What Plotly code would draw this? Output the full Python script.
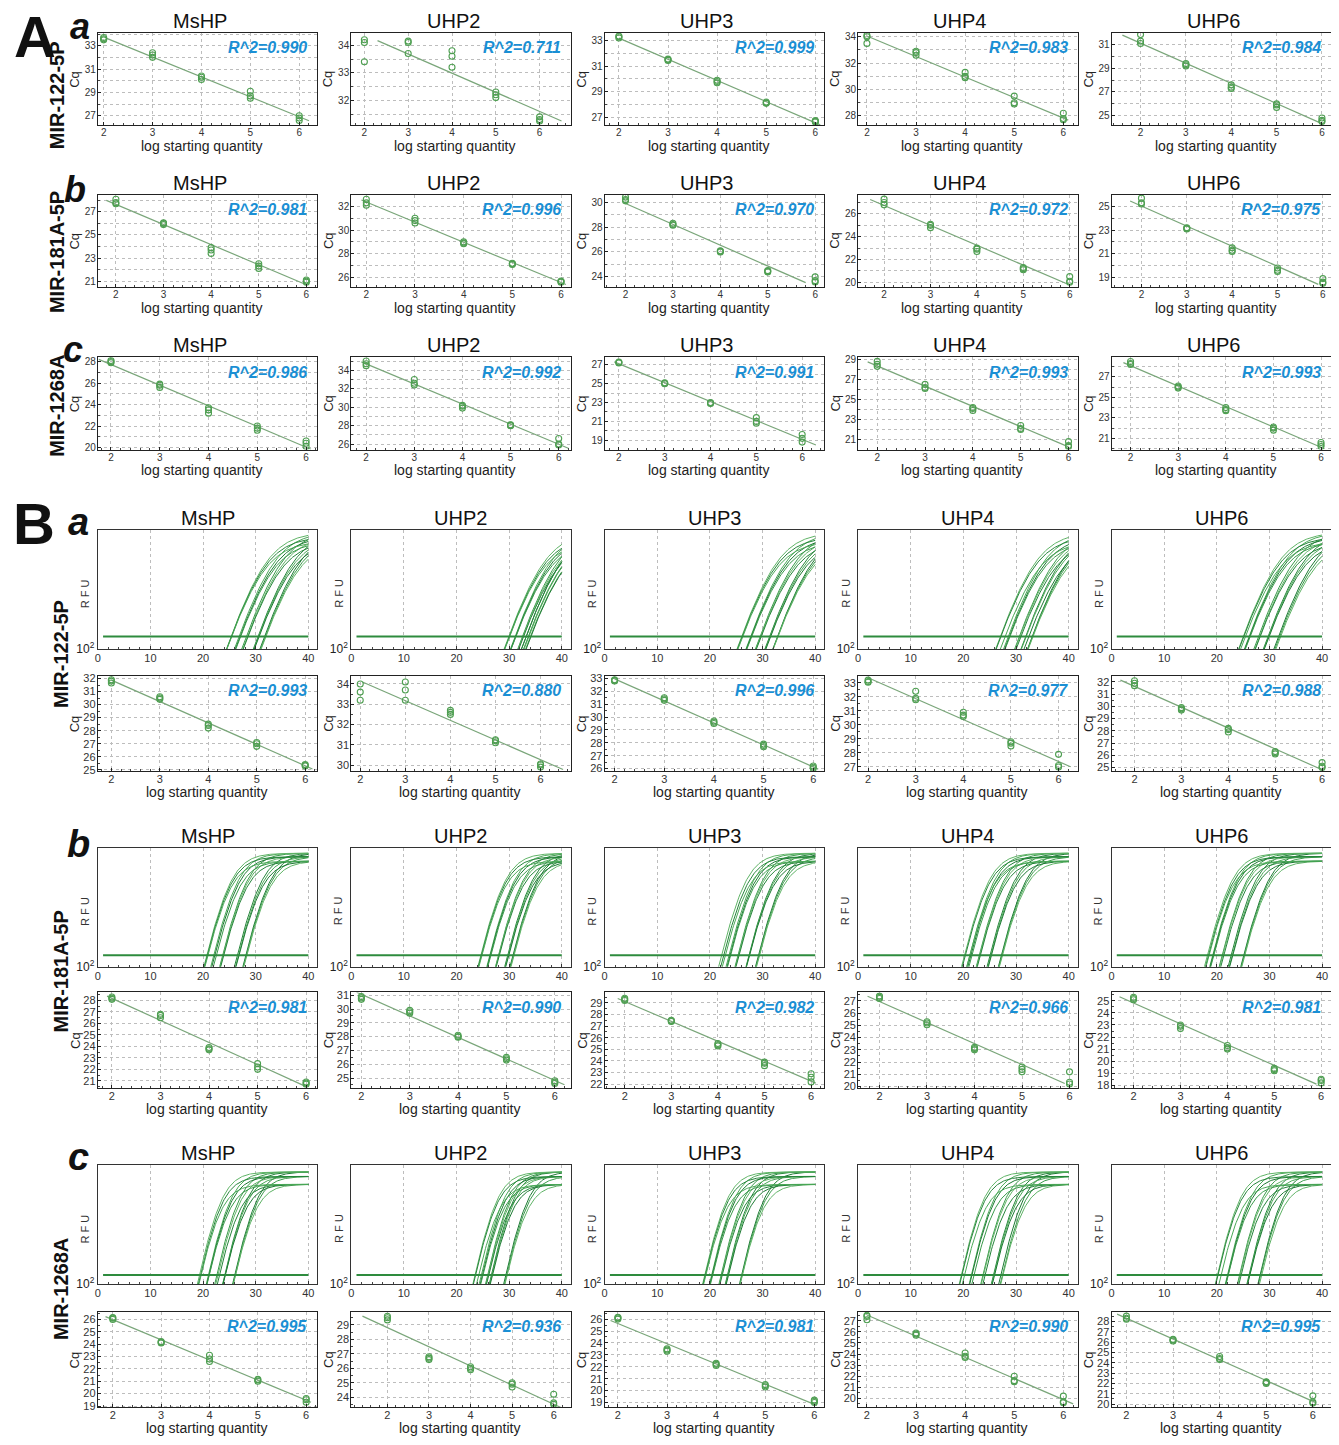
import numpy as np
import plotly.graph_objects as go

W, H = 1339, 1445          # reference picture size
OFF = 8                    # default page margin of the browser body
FW, FH = W - OFF, H - OFF

# ---------------- data ----------------
probes = ["MsHP", "UHP2", "UHP3", "UHP4", "UHP6"]
mirnas = ["MIR-122-5P", "MIR-181A-5P", "MIR-1268A"]
row_letters = ["a", "b", "c"]
log_qty = [2, 3, 4, 5, 6]
cycle_ticks = [0, 10, 20, 30, 40]

# Panel A : Cq replicates  [probe][dilution][replicate]
cqA_122 = [
    [[33.5, 33.6, 33.7], [32.0, 32.2, 32.4], [30.1, 30.3, 30.4], [28.5, 28.7, 29.1], [26.6, 26.8, 27.0]],
    [[33.4, 34.1, 34.2], [33.7, 34.1, 34.15], [33.2, 33.6, 33.8], [32.1, 32.2, 32.3], [31.25, 31.3, 31.4]],
    [[33.2, 33.3, 33.35], [31.45, 31.5, 31.55], [29.7, 29.8, 29.9], [28.1, 28.15, 28.2], [26.65, 26.7, 26.75]],
    [[33.5, 34.0, 34.1], [32.6, 32.8, 32.9], [30.9, 31.0, 31.3], [28.9, 29.0, 29.5], [27.7, 27.8, 28.2]],
    [[31.1, 31.3, 31.85], [29.2, 29.3, 29.4], [27.3, 27.4, 27.6], [25.7, 25.9, 26.0], [24.5, 24.6, 24.8]],
]
cqA_181 = [
    [[27.7, 27.8, 28.1], [25.9, 26.0, 26.05], [23.4, 23.7, 23.9], [22.1, 22.3, 22.5], [20.9, 21.0, 21.1]],
    [[32.1, 32.3, 32.6], [30.6, 30.8, 31.0], [28.85, 28.9, 29.0], [27.1, 27.15, 27.2], [25.6, 25.65, 25.7]],
    [[30.1, 30.2, 30.4], [28.15, 28.2, 28.3], [26.0, 26.05, 26.1], [24.4, 24.45, 24.5], [23.6, 23.7, 24.0]],
    [[26.8, 27.0, 27.3], [24.8, 25.0, 25.1], [22.7, 22.9, 23.0], [21.1, 21.2, 21.3], [20.0, 20.1, 20.5]],
    [[25.2, 25.3, 25.7], [23.1, 23.15, 23.2], [21.2, 21.3, 21.5], [19.5, 19.6, 19.8], [18.5, 18.6, 18.9]],
]
cqA_1268 = [
    [[27.9, 28.0, 28.1], [25.6, 25.8, 25.9], [23.2, 23.5, 23.7], [21.6, 21.8, 22.0], [20.1, 20.4, 20.6]],
    [[34.5, 34.7, 35.0], [32.4, 32.6, 33.0], [29.9, 30.1, 30.2], [28.0, 28.05, 28.1], [25.9, 26.0, 26.6]],
    [[27.2, 27.25, 27.3], [25.0, 25.05, 25.1], [22.9, 22.95, 23.0], [20.8, 21.0, 21.4], [18.8, 19.2, 19.6]],
    [[28.3, 28.5, 28.8], [26.1, 26.2, 26.5], [23.9, 24.1, 24.2], [22.0, 22.1, 22.4], [20.3, 20.4, 20.8]],
    [[28.2, 28.3, 28.5], [25.9, 26.0, 26.1], [23.7, 23.8, 24.0], [21.8, 22.0, 22.1], [20.2, 20.4, 20.6]],
]
r2A_122 = ["0.990", "0.711", "0.999", "0.983", "0.984"]
r2A_181 = ["0.981", "0.996", "0.970", "0.972", "0.975"]
r2A_1268 = ["0.986", "0.992", "0.991", "0.993", "0.993"]

# Panel B : Cq replicates  [probe][dilution][replicate]
cqB_122 = [
    [[31.65, 31.8, 31.9], [30.4, 30.5, 30.6], [28.2, 28.4, 28.5], [26.8, 27.0, 27.1], [25.3, 25.35, 25.4]],
    [[33.2, 33.6, 34.0], [33.2, 33.7, 34.1], [32.5, 32.6, 32.7], [31.1, 31.2, 31.25], [29.9, 30.0, 30.05]],
    [[32.8, 32.85, 32.9], [31.3, 31.4, 31.5], [29.5, 29.6, 29.7], [27.7, 27.8, 27.9], [26.0, 26.1, 26.2]],
    [[33.05, 33.1, 33.2], [31.8, 31.9, 32.4], [30.6, 30.7, 30.9], [28.5, 28.7, 28.8], [27.0, 27.1, 27.9]],
    [[31.7, 31.9, 32.1], [29.7, 29.8, 29.9], [27.9, 28.1, 28.2], [26.1, 26.2, 26.3], [25.0, 25.1, 25.4]],
]
cqB_181 = [
    [[28.1, 28.2, 28.3], [26.5, 26.7, 26.8], [23.7, 23.8, 23.9], [22.0, 22.2, 22.5], [20.7, 20.8, 20.9]],
    [[30.7, 30.8, 30.9], [29.7, 29.8, 29.9], [27.95, 28.0, 28.1], [26.3, 26.4, 26.5], [24.6, 24.7, 24.8]],
    [[29.2, 29.3, 29.4], [27.4, 27.45, 27.5], [25.3, 25.4, 25.5], [23.6, 23.8, 23.9], [22.2, 22.6, 22.9]],
    [[27.2, 27.3, 27.4], [25.05, 25.2, 25.3], [23.0, 23.1, 23.2], [21.2, 21.4, 21.6], [20.2, 20.35, 21.2]],
    [[25.1, 25.2, 25.3], [22.7, 22.9, 23.0], [21.0, 21.1, 21.3], [19.2, 19.3, 19.4], [18.2, 18.4, 18.5]],
]
cqB_1268 = [
    [[26.0, 26.1, 26.15], [24.1, 24.15, 24.2], [22.6, 22.8, 23.1], [21.0, 21.1, 21.15], [19.3, 19.5, 19.6]],
    [[29.35, 29.5, 29.6], [26.6, 26.7, 26.8], [25.9, 26.0, 26.1], [24.7, 24.9, 25.0], [23.5, 23.6, 24.2]],
    [[26.0, 26.1, 26.15], [23.3, 23.4, 23.5], [22.1, 22.2, 22.3], [20.3, 20.4, 20.5], [19.0, 19.1, 19.2]],
    [[27.1, 27.4, 27.5], [25.7, 25.8, 25.9], [23.7, 23.8, 24.1], [21.5, 21.6, 22.0], [19.6, 19.7, 20.2]],
    [[28.2, 28.3, 28.5], [26.1, 26.2, 26.25], [24.3, 24.4, 24.6], [22.0, 22.1, 22.15], [20.1, 20.2, 20.8]],
]
r2B_122 = ["0.993", "0.880", "0.996", "0.977", "0.988"]
r2B_181 = ["0.981", "0.990", "0.982", "0.966", "0.981"]
r2B_1268 = ["0.995", "0.936", "0.981", "0.990", "0.995"]

# amplification curves (log10 RFU): threshold, plateau per replicate, cycles per e-fold
amp_threshold = [2.11, 2.10, 2.08]
amp_plateau_122 = [3.03, 2.99, 2.95]
amp_plateau_181 = [3.00, 2.97, 2.93]
amp_plateau_1268 = [2.99, 2.95, 2.88]
amp_scale = [3.1, 2.1, 1.9]

cqA = [cqA_122, cqA_181, cqA_1268]
r2A = [r2A_122, r2A_181, r2A_1268]
cqB = [cqB_122, cqB_181, cqB_1268]
r2B = [r2B_122, r2B_181, r2B_1268]
amp_plateau = [amp_plateau_122, amp_plateau_181, amp_plateau_1268]

# ---------------- layout config (positions / styles, in reference pixels) ----------------
COL_LEFT = [95, 349, 603, 857, 1111]
COL_W = 220
A_TOP = [29, 192, 356]
A_H = 93
B_AMP_TOP = [530, 850, 1170]
B_AMP_H = 120
B_STD_TOP = [677, 996, 1318]
B_STD_H = 96

# (xlo, xhi, ylo, yhi, ytick0, ydtick, line_from, line_to)
A_CFG = [
    [(1.88, 6.37, 26.2, 34.1, 27, 2, 2.05, 6.2), (1.70, 6.71, 31.1, 34.45, 32, 1, 2.3, 6.5),
     (1.71, 6.18, 26.4, 33.6, 27, 2, 2.0, 6.1), (1.82, 6.29, 27.3, 34.3, 28, 2, 2.0, 6.1),
     (1.36, 6.2, 24.2, 32.0, 25, 2, 1.6, 6.0)],
    [(1.62, 6.23, 20.5, 28.5, 21, 2, 1.8, 6.0), (1.69, 6.2, 25.2, 33.0, 26, 2, 1.9, 6.1),
     (1.56, 6.19, 23.2, 30.6, 24, 2, 2.0, 5.8), (1.44, 6.17, 19.6, 27.7, 20, 2, 1.7, 5.95),
     (1.34, 6.18, 18.2, 26.0, 19, 2, 1.75, 5.9)],
    [(1.73, 6.23, 19.8, 28.4, 20, 2, 1.75, 6.1), (1.69, 6.25, 25.4, 35.4, 26, 2, 1.9, 6.2),
     (1.69, 6.48, 18.0, 27.8, 19, 2, 1.9, 6.3), (1.60, 6.19, 20.0, 29.2, 21, 2, 1.8, 6.0),
     (1.60, 6.21, 19.9, 28.9, 21, 2, 1.85, 6.0)],
]
B_CFG = [
    [(1.72, 6.25, 24.9, 32.2, 25, 1, 2.0, 6.15), (1.8, 6.67, 29.7, 34.4, 30, 1, 2.05, 6.5),
     (1.8, 6.22, 25.8, 33.2, 26, 1, 2.0, 6.1), (1.79, 6.4, 26.7, 33.5, 27, 1, 2.0, 6.25),
     (1.51, 6.19, 24.7, 32.5, 25, 1, 1.7, 6.0)],
    [(1.71, 6.23, 20.4, 28.7, 21, 1, 1.9, 6.0), (1.79, 6.33, 24.3, 31.2, 25, 1, 1.9, 6.2),
     (1.57, 6.28, 21.7, 29.9, 22, 1, 1.85, 6.1), (1.55, 6.17, 19.9, 27.7, 20, 1, 1.75, 5.9),
     (1.53, 6.21, 17.8, 25.7, 18, 1, 1.7, 5.9)],
    [(1.69, 6.23, 18.9, 26.6, 19, 1, 1.85, 6.1), (1.13, 6.41, 23.3, 29.9, 24, 1, 1.4, 6.2),
     (1.73, 6.2, 18.6, 26.6, 19, 1, 1.85, 6.05), (1.82, 6.29, 19.2, 27.8, 20, 1, 2.0, 6.2),
     (1.68, 6.39, 19.7, 28.9, 20, 1, 1.8, 6.05)],
]

NARROW = "Liberation Sans Narrow, Arial Narrow, Liberation Sans, Arial, sans-serif"
SANS = "Liberation Sans, Arial, sans-serif"
MARK_C = "#4f9f52"
LINE_C = "#7aa67a"
R2_C = "#1a8fd4"
GRID_C = "#bdbdbd"
AMP_COLORS = ["#1d7a33", "#3a9a4b", "#5fb366", "#26853b", "#4aa857"]

fig = go.Figure()
layout = dict(width=FW, height=FH, margin=dict(l=0, r=0, t=0, b=0), autosize=False,
              paper_bgcolor="white", plot_bgcolor="white", showlegend=False)
annotations = []
counter = [0]


def clamp(v):
    return min(1.0, max(0.0, v))


def dom_x(left, width):
    return [clamp((left - OFF) / FW), clamp((left + width - OFF) / FW)]


def dom_y(top, height):
    return [clamp(1 - (top + height - OFF) / FH), clamp(1 - (top - OFF) / FH)]


def ann(text, px, py, size, family=SANS, color="#111", angle=0, xanchor="center", yanchor="middle"):
    annotations.append(dict(text=text, x=(px - OFF) / FW, y=1 - (py - OFF) / FH, xref="paper",
                            yref="paper", showarrow=False, textangle=angle, xanchor=xanchor,
                            yanchor=yanchor, font=dict(size=size, family=family, color=color)))


def new_axes():
    counter[0] += 1
    i = counter[0]
    return i, ("x" if i == 1 else f"x{i}"), ("y" if i == 1 else f"y{i}"), \
        ("xaxis" if i == 1 else f"xaxis{i}"), ("yaxis" if i == 1 else f"yaxis{i}")


def std_plot(left, top, height, cq, r2, cfg, tick_fs, title_dx, minor_grid):
    xlo, xhi, ylo, yhi, yt0, ydt, la, lb = cfg
    i, xn, yn, xk, yk = new_axes()
    xs = [x for x in log_qty for _ in range(3)]
    ys = [v for d in cq for v in d]
    slope, icpt = np.polyfit(xs, ys, 1)
    lx = np.array([la, lb])
    fig.add_trace(go.Scatter(x=lx, y=slope * lx + icpt, mode="lines",
                             line=dict(color=LINE_C, width=1.2), xaxis=xn, yaxis=yn, hoverinfo="skip"))
    fig.add_trace(go.Scatter(x=xs, y=ys, mode="markers",
                             marker=dict(symbol="circle-open", size=6, color=MARK_C, line=dict(width=1.1)),
                             xaxis=xn, yaxis=yn))
    common = dict(showline=True, mirror=True, linecolor="#222", linewidth=1, ticks="inside",
                  ticklen=3, tickcolor="#222", zeroline=False, showgrid=True, gridcolor=GRID_C,
                  griddash="dot", gridwidth=1)
    layout[xk] = dict(domain=dom_x(left, COL_W), anchor=yn, range=[xlo, xhi], tick0=0, dtick=1,
                      ticklabelstandoff=-2,
                      tickfont=dict(size=tick_fs, family=NARROW, color="#333"),
                      minor=dict(dtick=0.2, tick0=0, ticks="inside", ticklen=2, tickcolor="#444",
                                 showgrid=False), **common)
    layout[yk] = dict(domain=dom_y(top, height), anchor=xn, range=[ylo, yhi], tick0=yt0, dtick=ydt,
                      ticklabelstandoff=-1,
                      tickfont=dict(size=tick_fs, family=NARROW, color="#333"),
                      minor=dict(dtick=ydt / 2, tick0=yt0, ticks="inside", ticklen=2, tickcolor="#444",
                                 showgrid=minor_grid, gridcolor=GRID_C, griddash="dot"), **common)
    ann(f"<b><i>R^2={r2}</i></b>", left + COL_W - 8, top + 15, 16, family=SANS, color=R2_C,
        xanchor="right")
    ann("Cq", left - 23, top + height / 2, 13, family=NARROW, color="#222", angle=-90)
    ann("log starting quantity", left + COL_W / 2 - 6 + title_dx, top + height + 21, 14,
        family=NARROW, color="#222")


def amp_plot(left, top, row, p):
    i, xn, yn, xk, yk = new_axes()
    k = amp_scale[row]
    T = 10 ** amp_threshold[row]
    cyc = np.linspace(1, 40, 235)
    n = 0
    for d in range(5):
        for j in range(3):
            F = 10 ** amp_plateau[row][j]
            c0 = cqB[row][p][d][j] + k * np.log(F / T - 1)
            rfu = F / (1 + np.exp(-(cyc - c0) / k))
            fig.add_trace(go.Scatter(x=cyc, y=rfu, mode="lines",
                                     line=dict(color=AMP_COLORS[n % len(AMP_COLORS)], width=1),
                                     xaxis=xn, yaxis=yn, hoverinfo="skip"))
            n += 1
    fig.add_trace(go.Scatter(x=[1, 40], y=[T, T], mode="lines", line=dict(color="#2e8b3e", width=2),
                             xaxis=xn, yaxis=yn, hoverinfo="skip"))
    layout[xk] = dict(domain=dom_x(left, COL_W), anchor=yn, range=[0, 41.7],
                      tickvals=cycle_ticks, showline=True, mirror=True, linecolor="#333", linewidth=1,
                      ticks="inside", ticklen=3, tickcolor="#333", zeroline=False,
                      showgrid=True, gridcolor=GRID_C, griddash="dot", ticklabelstandoff=-1,
                      tickfont=dict(size=11, family=NARROW, color="#333"),
                      minor=dict(dtick=2, tick0=0, ticks="inside", ticklen=2, tickcolor="#444",
                                 showgrid=False))
    layout[yk] = dict(domain=dom_y(top, B_AMP_H), anchor=xn, type="log", range=[2, 3.05],
                      tickvals=[100], ticktext=["10<sup>2</sup>"], showline=True, mirror=True,
                      linecolor="#333", linewidth=1, ticks="inside", ticklen=3, tickcolor="#333",
                      showgrid=False, zeroline=False,
                      tickfont=dict(size=12, family=NARROW, color="#222"))
    ann("R F U", left - 13, top + B_AMP_H / 2 + 4, 11, family=SANS, color="#333", angle=-90)


# ---------------- Panel A ----------------
for r in range(3):
    for p in range(5):
        left = COL_LEFT[p]
        top = A_TOP[r]
        std_plot(left, top, A_H, cqA[r][p], r2A[r][p], A_CFG[r][p], 10, 0, True)
        ann(probes[p], left + COL_W / 2 - 8, top - 12, 20, family=NARROW, color="#111")

# ---------------- Panel B ----------------
for r in range(3):
    for p in range(5):
        left = COL_LEFT[p]
        amp_plot(left, B_AMP_TOP[r], r, p)
        ann(probes[p], left + COL_W / 2, B_AMP_TOP[r] - 12, 20, family=NARROW, color="#111")
        std_plot(left, B_STD_TOP[r], B_STD_H, cqB[r][p], r2B[r][p], B_CFG[r][p], 11, 5, False)

# ---------------- big labels ----------------
ann("<b>A</b>", 32, 33, 58, family=SANS, color="#111")
ann("<b>B</b>", 31, 523, 58, family=SANS, color="#111")
A_LET_POS = [(77, 23), (72, 187), (70, 348)]
B_LET_POS = [(76, 522), (76, 846), (76, 1162)]
for r in range(3):
    ann(f"<b><i>{row_letters[r]}</i></b>", A_LET_POS[r][0], A_LET_POS[r][1], 36, family=SANS)
    ann(f"<b><i>{row_letters[r]}</i></b>", B_LET_POS[r][0], B_LET_POS[r][1], 38, family=SANS)
A_LAB_Y = [92, 250, 405]
B_LAB_Y = [655, 975, 1295]
for r in range(3):
    ann(f"<b>{mirnas[r]}</b>", 54, A_LAB_Y[r], 20, family=SANS, angle=-90)
    ann(f"<b>{mirnas[r]}</b>", 58, B_LAB_Y[r], 20, family=SANS, angle=-90)

layout["annotations"] = annotations
fig.update_layout(**layout)
fig.write_html("out.html")
